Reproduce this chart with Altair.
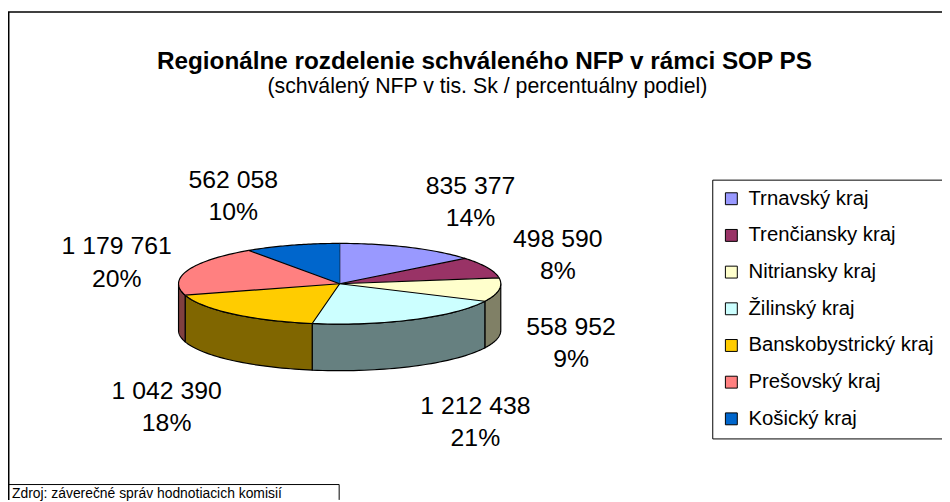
import altair as alt
import pandas as pd

# ---- data ----
regions = ["Trnavský kraj", "Trenčiansky kraj", "Nitriansky kraj", "Žilinský kraj",
           "Banskobystrický kraj", "Prešovský kraj", "Košický kraj"]
values = [835377, 498590, 558952, 1212438, 1042390, 1179761, 562058]
top_colors = ["#9999FF", "#993366", "#FFFFCC", "#CCFFFF", "#FFCC00", "#FF8080", "#0066CC"]
side_colors = ["#4D4D80", "#4D1A33", "#808066", "#668080", "#806600", "#804040", "#003366"]
title_text = "Regionálne rozdelenie schváleného NFP v rámci SOP PS"
subtitle_text = "(schválený NFP v tis. Sk / percentuálny podiel)"
source_text = "Zdroj: záverečné správ hodnotiacich komisií"

# ---- layout ----
W, H = 942, 494
CX, CY = 334.5, 276.0      # centre of top face
RA, RB = 162.5, 40.7       # ellipse radii
DEPTH = 47                 # wall height
N = 40                     # arc samples
FONT = "Liberation Sans"

df = pd.DataFrame({
    "region": regions,
    "value": values,
    "idx": list(range(len(regions))),
    "side": side_colors,
    "label": [f"{v:,}".replace(",", " ") for v in values],
})

xs = alt.Scale(domain=[0, W], range=[0, W], nice=False, zero=False)
ys = alt.Scale(domain=[0, H], range=[0, H], nice=False, zero=False)


def slices():
    return (
        alt.Chart(df)
        .transform_joinaggregate(total="sum(value)")
        .transform_window(cum="sum(value)", sort=[alt.SortField("idx")], frame=[None, 0])
        .transform_calculate(
            a0="2*PI*(datum.cum - datum.value)/datum.total",
            a1="2*PI*datum.cum/datum.total",
            mid="PI*(2*datum.cum - datum.value)/datum.total",
            pct="datum.value/datum.total",
        )
    )


# side walls (front half only)
side = (
    slices()
    .transform_calculate(s="max(datum.a0, PI/2)", e="min(datum.a1, 3*PI/2)")
    .transform_filter("datum.s < datum.e")
    .transform_calculate(ks=f"sequence(0, {N + 1})")
    .transform_flatten(["ks"], as_=["k"])
    .transform_calculate(th=f"datum.s + (datum.e - datum.s)*datum.k/{N}")
    .transform_calculate(
        px=f"{CX} + {RA}*sin(datum.th)",
        py=f"{CY} - {RB}*cos(datum.th)",
        py2=f"{CY} - {RB}*cos(datum.th) + {DEPTH}",
    )
    .mark_area(stroke="black", strokeWidth=1.2, strokeJoin="round")
    .encode(
        x=alt.X("px:Q", scale=xs, axis=None),
        y=alt.Y("py:Q", scale=ys, axis=None, stack=None),
        y2="py2:Q",
        fill=alt.Fill("side:N", scale=None),
        detail="region:N",
    )
)

# top face wedges
top = (
    slices()
    .transform_calculate(ks=f"sequence(0, {N + 2})")
    .transform_flatten(["ks"], as_=["k"])
    .transform_calculate(th=f"datum.a0 + (datum.a1 - datum.a0)*(datum.k - 1)/{N}")
    .transform_calculate(
        px=f"datum.k == 0 ? {CX} : {CX} + {RA}*sin(datum.th)",
        py=f"datum.k == 0 ? {CY} : {CY} - {RB}*cos(datum.th)",
    )
    .mark_line(filled=True, stroke="black", strokeWidth=1.2, strokeJoin="round")
    .encode(
        x=alt.X("px:Q", scale=xs, axis=None),
        y=alt.Y("py:Q", scale=ys, axis=None),
        order=alt.Order("k:Q"),
        color=alt.Color(
            "region:N",
            scale=alt.Scale(domain=regions, range=top_colors),
            legend=alt.Legend(
                title=None, orient="none", legendX=710.3, legendY=171,
                direction="vertical", symbolType="square", symbolSize=144,
                symbolStrokeColor="black", symbolStrokeWidth=1,
                labelFont=FONT, labelFontSize=20.5, labelColor="black",
                labelOffset=7, rowPadding=16, padding=9,
                strokeColor="black", labelLimit=400,
            ),
        ),
    )
)

# data labels
lab = slices().transform_calculate(
    lx=f"{CX} + 181.7*sin(datum.mid) + 53.7*(sin(datum.mid) >= 0 ? 1 : -1)",
    lc=f"{CY} - 108*cos(datum.mid) + 14.3 + (cos(datum.mid) < 0 ? 29 : 0)",
    pl="format(datum.pct, '.0%')",
)
lab1 = lab.transform_calculate(ly="datum.lc - 7.75").mark_text(
    font=FONT, fontSize=25, align="center", baseline="alphabetic", color="black"
).encode(x=alt.X("lx:Q", scale=xs, axis=None), y=alt.Y("ly:Q", scale=ys, axis=None), text="label:N")
lab2 = lab.transform_calculate(ly="datum.lc + 24.75").mark_text(
    font=FONT, fontSize=25, align="center", baseline="alphabetic", color="black"
).encode(x=alt.X("lx:Q", scale=xs, axis=None), y=alt.Y("ly:Q", scale=ys, axis=None), text="pl:N")

# decorations
one = pd.DataFrame({"title": [title_text], "subtitle": [subtitle_text], "source": [source_text]})
frame_top = alt.Chart(one).mark_rule(color="black", strokeWidth=1.5).encode(
    x=alt.value(0), x2=alt.value(W), y=alt.value(2))
frame_left = alt.Chart(one).mark_rule(color="black", strokeWidth=1.5).encode(
    x=alt.value(0.75), y=alt.value(2), y2=alt.value(H))
src_top = alt.Chart(one).mark_rule(color="black", strokeWidth=1).encode(
    x=alt.value(0), x2=alt.value(334), y=alt.value(478.5))
src_right = alt.Chart(one).mark_rule(color="black", strokeWidth=1).encode(
    x=alt.value(334), y=alt.value(478.5), y2=alt.value(H))
src_txt = alt.Chart(one).mark_text(
    font=FONT, fontSize=14, align="left", baseline="alphabetic", color="black"
).encode(x=alt.value(4), y=alt.value(492), text="source:N")
title = alt.Chart(one).mark_text(
    font=FONT, fontSize=24.5, fontWeight="bold", align="center", baseline="alphabetic", color="black"
).encode(x=alt.value(480.5), y=alt.value(59), text="title:N")
subtitle = alt.Chart(one).mark_text(
    font=FONT, fontSize=21.5, align="center", baseline="alphabetic", color="black"
).encode(x=alt.value(483.5), y=alt.value(83.5), text="subtitle:N")

chart = (
    alt.layer(frame_top, frame_left, src_top, src_right, src_txt, title, subtitle,
              side, top, lab1, lab2)
    .properties(width=W, height=H, autosize=alt.AutoSizeParams(type="none"), padding=0)
    .configure_view(stroke=None)
)

chart.save("out.html", embed_options={"renderer": "svg", "actions": False})
